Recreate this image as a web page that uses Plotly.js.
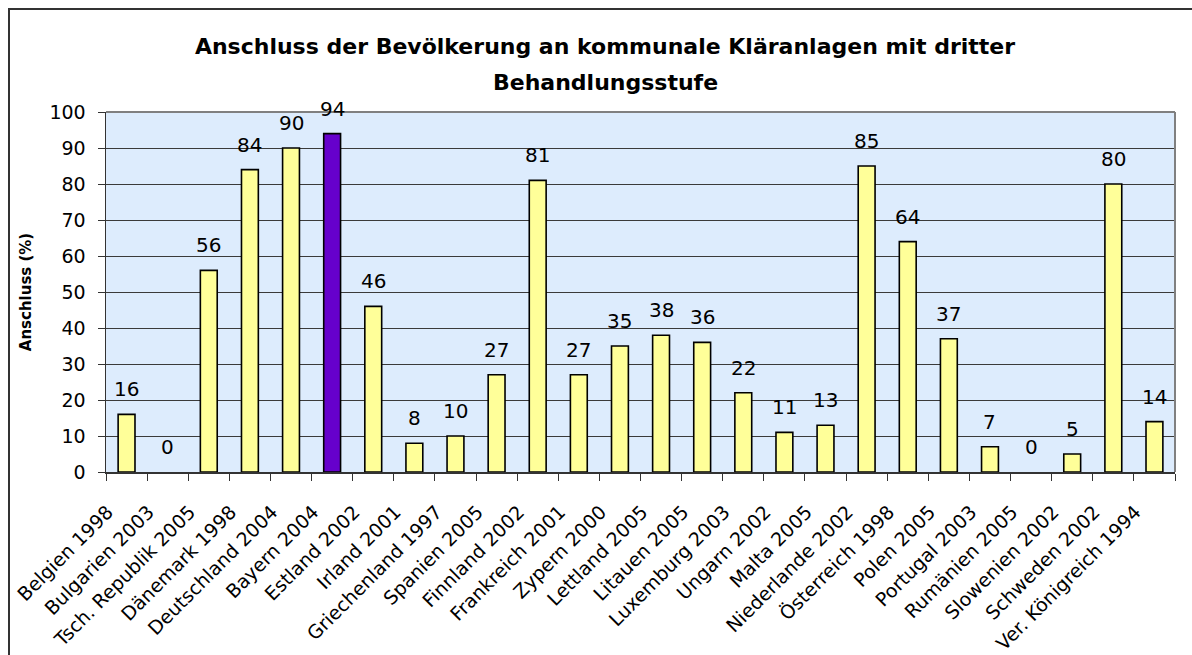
<!DOCTYPE html>
<html>
<head>
<meta charset="utf-8">
<script src="https://cdn.plot.ly/plotly-3.0.1.min.js"></script>
<style>
  html, body { margin: 0; padding: 0; background: #fff; }
  #wrap { position: relative; width: 1192px; height: 655px; overflow: hidden; }
  #chart { position: absolute; left: 0; top: 0; width: 1192px; height: 655px; }
  #frame { position: absolute; left: 8px; top: 8px; width: 1200px; height: 700px;
           border-left: 2px solid #333; border-top: 2px solid #333; pointer-events: none; }
</style>
</head>
<body>
<div id="wrap">
  <div id="chart"></div>
  <div id="frame"></div>
</div>
<script>
const categories = [
  "Belgien 1998", "Bulgarien 2003", "Tsch. Republik 2005", "Dänemark 1998",
  "Deutschland 2004", "Bayern 2004", "Estland 2002", "Irland 2001",
  "Griechenland 1997", "Spanien 2005", "Finnland 2002", "Frankreich 2001",
  "Zypern 2000", "Lettland 2005", "Litauen 2005", "Luxemburg 2003",
  "Ungarn 2002", "Malta 2005", "Niederlande 2002", "Österreich 1998",
  "Polen 2005", "Portugal 2003", "Rumänien 2005", "Slowenien 2002",
  "Schweden 2002", "Ver. Königreich 1994"
];
const values = [16, 0, 56, 84, 90, 94, 46, 8, 10, 27, 81, 27, 35, 38, 36, 22, 11, 13, 85, 64, 37, 7, 0, 5, 80, 14];
const highlight = "Bayern 2004";
const yTickVals = [0, 10, 20, 30, 40, 50, 60, 70, 80, 90, 100];
const titleLine1 = "Anschluss der Bevölkerung an kommunale Kläranlagen mit dritter";
const titleLine2 = "Behandlungsstufe";
const yTitle = "Anschluss (%)";

const FONT = "DejaVu Sans, Verdana, sans-serif";
const barColors = categories.map(c => c === highlight ? "#6600CC" : "#FFFF99");
const lineWidths = values.map(v => v === 0 ? 0 : 1.6);

const trace = {
  type: "bar",
  x: categories,
  y: values,
  marker: { color: barColors, line: { color: "#000000", width: lineWidths } },
  hoverinfo: "x+y"
};

const valueLabels = categories.map((c, i) => ({
  x: c, y: values[i], xref: "x", yref: "y",
  text: String(values[i]), showarrow: false,
  yanchor: "middle", yshift: 25,
  font: { family: FONT, size: 20, color: "#000" }
}));

const layout = {
  width: 1192, height: 655,
  margin: { l: 106, r: 17, t: 112, b: 183 },
  paper_bgcolor: "#ffffff",
  plot_bgcolor: "#DDECFD",
  bargap: 0.59,
  showlegend: false,
  font: { family: FONT, color: "#000" },
  title: {
    text: "<b>" + titleLine1 + "</b>",
    font: { family: FONT, size: 22, color: "#000" },
    xref: "container", x: 605 / 1192, xanchor: "center",
    yref: "container", y: 1 - 46 / 655, yanchor: "middle"
  },
  xaxis: {
    type: "category",
    tickangle: -45,
    tickson: "boundaries",
    ticks: "outside", ticklen: 7, tickcolor: "#333",
    showline: true, linecolor: "#333", linewidth: 1.5,
    showgrid: false,
    tickfont: { family: FONT, size: 19, color: "#000" },
    ticklabelshift: -19,
    ticklabelstandoff: 20,
    automargin: false
  },
  yaxis: {
    range: [0, 100],
    tickvals: yTickVals,
    ticks: "outside", ticklen: 7, tickcolor: "#333",
    showline: true, linecolor: "#333", linewidth: 1.5,
    showgrid: true, gridcolor: "#3a3a3a", gridwidth: 1,
    zeroline: false,
    tickfont: { family: FONT, size: 19, color: "#000" },
    ticklabelstandoff: 8,
    title: { text: "<b>" + yTitle + "</b>", font: { family: FONT, size: 15, color: "#000" }, standoff: 14 },
    automargin: false
  },
  shapes: [
    { type: "line", xref: "paper", yref: "paper", x0: 0, x1: 1, y0: 1, y1: 1,
      line: { color: "#808080", width: 2 } },
    { type: "line", xref: "paper", yref: "paper", x0: 1, x1: 1, y0: 0, y1: 1,
      line: { color: "#808080", width: 2 } }
  ],
  annotations: valueLabels.concat([{
    xref: "paper", yref: "paper",
    x: (605 - 106) / 1069, y: (472 - 82) / 360,
    xanchor: "center", yanchor: "middle",
    text: "<b>" + titleLine2 + "</b>", showarrow: false,
    font: { family: FONT, size: 22, color: "#000" }
  }])
};

Plotly.newPlot("chart", [trace], layout, { displayModeBar: false, staticPlot: true });
</script>
</body>
</html>
